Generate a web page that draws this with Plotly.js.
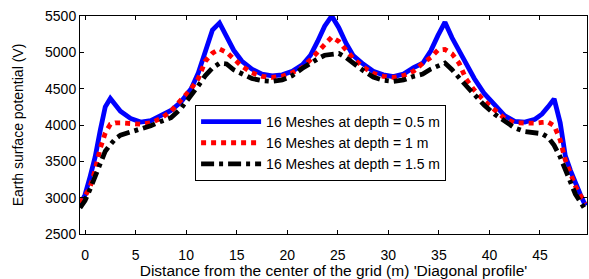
<!DOCTYPE html>
<html>
<head>
<meta charset="utf-8">
<script src="https://cdn.plot.ly/plotly-3.0.1.min.js"></script>
<style>
html,body{margin:0;padding:0;background:#fff;}
#chart{width:589px;height:279px;}
</style>
</head>
<body>
<div id="chart"></div>
<script>
const distance = [-0.5, 0, 0.5, 1, 1.5, 2, 2.5, 3, 3.5, 4.5, 5.5, 6.5, 7.5, 8.5, 9.5, 10.5, 11.2, 11.9, 12.6, 13.3, 14, 14.7, 15.5, 16.5, 17.5, 18.5, 19.5, 20.5, 21.5, 22.3, 23, 23.7, 24.4, 25.1, 25.8, 26.5, 27.5, 28.5, 29.5, 30.5, 31.5, 32.5, 33.4, 34.2, 34.9, 35.6, 36.3, 37, 37.7, 38.5, 39.5, 40.5, 41.5, 42.5, 43.5, 44.5, 45.2, 45.8, 46.4, 47, 47.5, 48, 48.5, 49, 49.5];

const depth05 = [2900, 3040, 3290, 3560, 3925, 4250, 4365, 4270, 4190, 4090, 4040, 4060, 4130, 4200, 4320, 4500, 4716, 4990, 5307, 5405, 5200, 5030, 4880, 4770, 4700, 4675, 4690, 4740, 4830, 4960, 5150, 5360, 5500, 5340, 5130, 4960, 4840, 4740, 4690, 4665, 4700, 4790, 4850, 5020, 5230, 5415, 5200, 5020, 4850, 4640, 4430, 4270, 4130, 4050, 4040, 4080, 4150, 4250, 4360, 4030, 3580, 3380, 3200, 3040, 2890];

const depth1 = [2930, 3020, 3150, 3380, 3680, 3890, 4010, 4030, 4030, 4020, 4010, 4030, 4090, 4190, 4340, 4500, 4640, 4880, 4990, 5046, 5000, 4920, 4810, 4720, 4670, 4655, 4670, 4720, 4790, 4900, 5000, 5120, 5210, 5150, 5040, 4920, 4800, 4710, 4670, 4655, 4680, 4740, 4850, 4930, 5030, 5040, 4980, 4850, 4630, 4480, 4330, 4200, 4090, 4030, 4020, 4025, 4035, 4040, 3990, 3794, 3520, 3330, 3160, 3030, 2920];

const depth15 = [2860, 2960, 3120, 3300, 3480, 3640, 3730, 3810, 3860, 3900, 3940, 3990, 4050, 4100, 4230, 4400, 4540, 4680, 4784, 4850, 4840, 4760, 4700, 4640, 4610, 4600, 4620, 4680, 4780, 4853, 4910, 4960, 4980, 4985, 4930, 4853, 4750, 4660, 4615, 4600, 4620, 4670, 4700, 4770, 4820, 4853, 4760, 4640, 4540, 4420, 4270, 4150, 4050, 3960, 3910, 3900, 3880, 3830, 3720, 3560, 3380, 3200, 3050, 2940, 2830];

const seriesNames = ['16 Meshes at depth = 0.5 m', '16 Meshes at depth = 1 m', '16 Meshes at depth = 1.5 m'];
const xTicks = [0, 5, 10, 15, 20, 25, 30, 35, 40, 45];
const yTicks = [2500, 3000, 3500, 4000, 4500, 5000, 5500];

const traces = [
  {x: distance, y: depth05, name: seriesNames[0], mode: 'lines', line: {color: '#0000ff', width: 4.8}},
  {x: distance, y: depth1, name: seriesNames[1], mode: 'lines', line: {color: '#ff0000', width: 4.8, dash: '5px,5px'}},
  {x: distance, y: depth15, name: seriesNames[2], mode: 'lines', line: {color: '#000000', width: 4.8, dash: '13px,5px,4px,5px'}}
];

const font = {family: 'Liberation Sans, Arial, sans-serif', color: '#000'};

const layout = {
  width: 589, height: 279,
  margin: {l: 80, r: 2, t: 16, b: 45},
  paper_bgcolor: '#fff', plot_bgcolor: '#fff',
  font: Object.assign({size: 14}, font),
  showlegend: true,
  legend: {
    x: 0.227, y: 0.592, xanchor: 'left', yanchor: 'top',
    bgcolor: '#fff', bordercolor: '#000', borderwidth: 1,
    itemwidth: 60,
    font: Object.assign({size: 14}, font)
  },
  xaxis: {
    range: [-0.5, 49.65], tickvals: xTicks, ticktext: xTicks.map(String),
    ticks: 'inside', ticklen: 4, tickcolor: '#000',
    showline: true, linecolor: '#000', linewidth: 1, mirror: 'ticks',
    showgrid: false, zeroline: false,
    ticklabelstandoff: 8,
    tickfont: Object.assign({size: 14}, font),
    title: {text: "Distance from the center of the grid (m) 'Diagonal profile'", font: Object.assign({size: 15.5}, font), standoff: 0}
  },
  yaxis: {
    range: [2500, 5500], tickvals: yTicks, ticktext: yTicks.map(String),
    ticks: 'inside', ticklen: 4, tickcolor: '#000',
    showline: true, linecolor: '#000', linewidth: 1, mirror: 'ticks',
    showgrid: false, zeroline: false,
    tickfont: Object.assign({size: 14}, font),
    title: {text: 'Earth surface potential (V)', font: Object.assign({size: 14}, font), standoff: 18}
  }
};

Plotly.newPlot('chart', traces, layout, {displayModeBar: false, staticPlot: true});
</script>
</body>
</html>
